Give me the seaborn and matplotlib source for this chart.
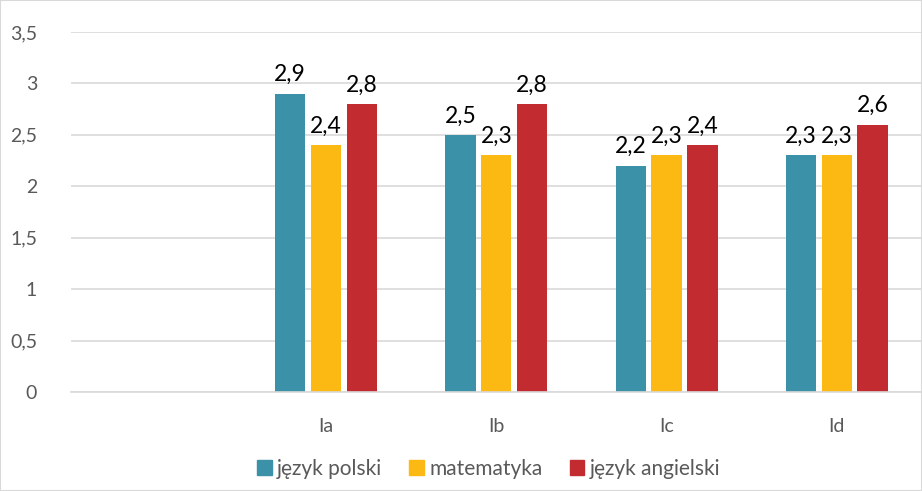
import matplotlib
matplotlib.use("Agg")
import matplotlib.pyplot as plt
import seaborn as sns
import pandas as pd
from matplotlib.patches import Rectangle

categories = ["", "Ia", "Ib", "Ic", "Id"]
series = ["język polski", "matematyka", "język angielski"]
polski = [2.9, 2.5, 2.2, 2.3]
matematyka = [2.4, 2.3, 2.3, 2.3]
angielski = [2.8, 2.8, 2.4, 2.6]
classes = ["Ia", "Ib", "Ic", "Id"]
colors = ["#3A91A8", "#FDB913", "#C22B2F"]
yticks = [0, 0.5, 1, 1.5, 2, 2.5, 3, 3.5]

rows = []
for s, vals in zip(series, [polski, matematyka, angielski]):
    for c, v in zip(classes, vals):
        rows.append({"klasa": c, "przedmiot": s, "wartosc": v})
df = pd.DataFrame(rows)

sns.set_style("white")
plt.rcParams["font.family"] = ["Lato", "DejaVu Sans"]

fig = plt.figure(figsize=(9.22, 4.91), dpi=100)
ax = fig.add_axes([0.0765, 0.2016, 0.9235, 0.7334])

sns.barplot(data=df, x="klasa", y="wartosc", hue="przedmiot", order=categories,
            hue_order=series, palette=colors, width=0.63, gap=0.15,
            saturation=1, ax=ax, legend=False, edgecolor="none", linewidth=0)

ax.set_ylim(0, 3.5)
ax.set_xlim(-0.5, 4.5)
ax.set_yticks(yticks)
ax.set_yticklabels([f"{t:g}".replace(".", ",") for t in yticks])
ax.grid(axis="y", color="#D9D9D9", linewidth=1.2)
ax.set_axisbelow(True)
for sp in ["top", "right", "left"]:
    ax.spines[sp].set_visible(False)
ax.spines["bottom"].set_color("#D9D9D9")
ax.spines["bottom"].set_linewidth(1.2)
ax.tick_params(axis="y", length=0, pad=24, labelsize=14, labelcolor="#595959")
ax.tick_params(axis="x", length=0, pad=19, labelsize=14, labelcolor="#595959")
ax.set_xlabel("")
ax.set_ylabel("")

for cont in ax.containers:
    labels = []
    for b in cont:
        h = b.get_height()
        labels.append("" if pd.isna(h) else f"{h:.1f}".replace(".", ","))
    ax.bar_label(cont, labels=labels, padding=6, fontsize=16.5, color="#000000")

handles = [Rectangle((0, 0), 1, 1, color=c) for c in colors]
fig.legend(handles, series, loc="center", bbox_to_anchor=(0.53, 0.045), ncol=3,
           frameon=False, fontsize=15, handlelength=0.7, handleheight=0.7,
           handletextpad=0.25, columnspacing=1.3, labelcolor="#595959")

fig.patches.append(Rectangle((0, 0), 1, 1, transform=fig.transFigure, fill=False,
                             edgecolor="#D9D9D9", linewidth=1.5))

fig.savefig("out.png", dpi=100)
